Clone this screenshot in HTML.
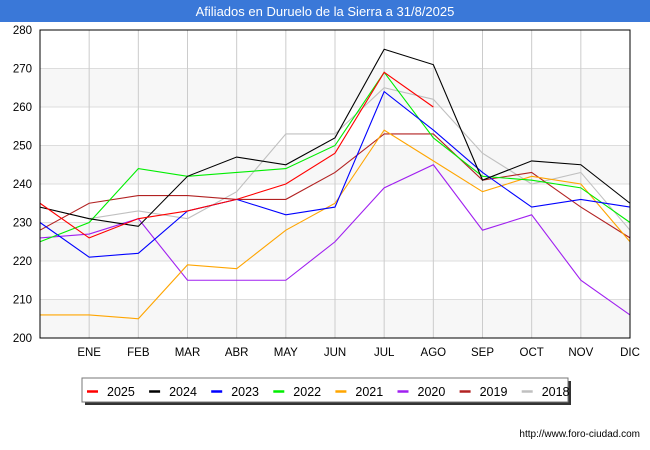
<!DOCTYPE html>
<html><head><meta charset="utf-8"><style>
body{margin:0;background:#fff;font-family:"Liberation Sans","DejaVu Sans",sans-serif;}
#wrap{position:relative;width:650px;height:450px;overflow:hidden;background:#fff;}
</style></head><body>
<div id="wrap">
<svg id="chart" width="650" height="450" xmlns="http://www.w3.org/2000/svg"></svg>
</div>
<script>
const categories=["","ENE","FEB","MAR","ABR","MAY","JUN","JUL","AGO","SEP","OCT","NOV","DIC"];
const yTicks=[200,210,220,230,240,250,260,270,280];
const seriesNames=["2025","2024","2023","2022","2021","2020","2019","2018"];
const seriesColors=["#ff0000","#000000","#0000ff","#00ee00","#ffa500","#a020f0","#b22222","#c0c0c0"];
const s2025=[235,226,231,233,236,240,248,269,260];
const s2024=[234,231,229,242,247,245,252,275,271,241,246,245,235];
const s2023=[230,221,222,233,236,232,234,264,254,243,234,236,234];
const s2022=[225,230,244,242,243,244,250,269,252,242,241,239,230];
const s2021=[206,206,205,219,218,228,235,254,246,238,242,240,225];
const s2020=[226,227,231,215,215,215,225,239,245,228,232,215,206];
const s2019=[228,235,237,237,236,236,243,253,253,241,243,234,226];
const s2018=[234,231,233,231,238,253,253,265,262,248,240,243,228];
const allSeries=[s2025,s2024,s2023,s2022,s2021,s2020,s2019,s2018];

const NS="http://www.w3.org/2000/svg";
const svg=document.getElementById('chart');
const L=40,R=630,T=30,B=338,yMin=200,yMax=280;
const xS=i=>L+i*(R-L)/(categories.length-1);
const yS=v=>B-(v-yMin)*(B-T)/(yMax-yMin);
function mk(tag,attrs,parent){const e=document.createElementNS(NS,tag);for(const k in attrs)e.setAttribute(k,attrs[k]);(parent||svg).appendChild(e);return e;}

// title bar
let e=mk('rect',{x:0,y:0,width:650,height:22,fill:'#3a78d8'});


e=mk('text',{x:325,y:16,'text-anchor':'middle','font-size':13,fill:'#fff'});
e.textContent='Afiliados en Duruelo de la Sierra a 31/8/2025';



// bands and grid
for(let i=0;i<yTicks.length-1;i++){
  if(i%2===0){e=mk('rect',{x:L,y:yS(yTicks[i+1]),width:R-L,height:yS(yTicks[i])-yS(yTicks[i+1]),fill:'#f7f7f7'});
  
  }
}
yTicks.forEach(v=>{
  e=mk('line',{x1:L,x2:R,y1:yS(v),y2:yS(v),stroke:'#dddddd','stroke-width':1});
  
  
  e=mk('text',{x:L-8,y:yS(v)+4,'text-anchor':'end','font-size':11.5,fill:'#000'});
  e.textContent=v;
  
  
});
categories.forEach((c,i)=>{
  e=mk('line',{x1:xS(i),x2:xS(i),y1:T,y2:B,stroke:'#cccccc','stroke-width':1});
  
  
  if(c){e=mk('text',{x:xS(i),y:B+18,'text-anchor':'middle','font-size':11.5,fill:'#000'});
  e.textContent=c;
  
  }
});

// series (draw oldest first)
for(let k=allSeries.length-1;k>=0;k--){
  const pts=allSeries[k].map((v,i)=>xS(i)+','+yS(v)).join(' ');
  e=mk('polyline',{points:pts,fill:'none',stroke:seriesColors[k],'stroke-width':1.1});
  
  
}
e=mk('rect',{x:L,y:T,width:R-L,height:B-T,fill:'none',stroke:'#000','stroke-width':1});



// legend
e=mk('rect',{x:85,y:381,width:486,height:24,fill:'#333'});


e=mk('rect',{x:82,y:378,width:486,height:24,fill:'#fff',stroke:'#777','stroke-width':1});


seriesNames.forEach((n,k)=>{
  const x0=87+k*62.1;
  e=mk('line',{x1:x0,x2:x0+11,y1:391.5,y2:391.5,stroke:seriesColors[k],'stroke-width':2.5});
  
  
  e=mk('text',{x:x0+20,y:396,'font-size':12.5,fill:'#000'});
  e.textContent=n;
  
  
});
e=mk('text',{x:640,y:437,'text-anchor':'end','font-size':10,fill:'#000'});
e.textContent='http://www.foro-ciudad.com';


</script>
</body></html>
